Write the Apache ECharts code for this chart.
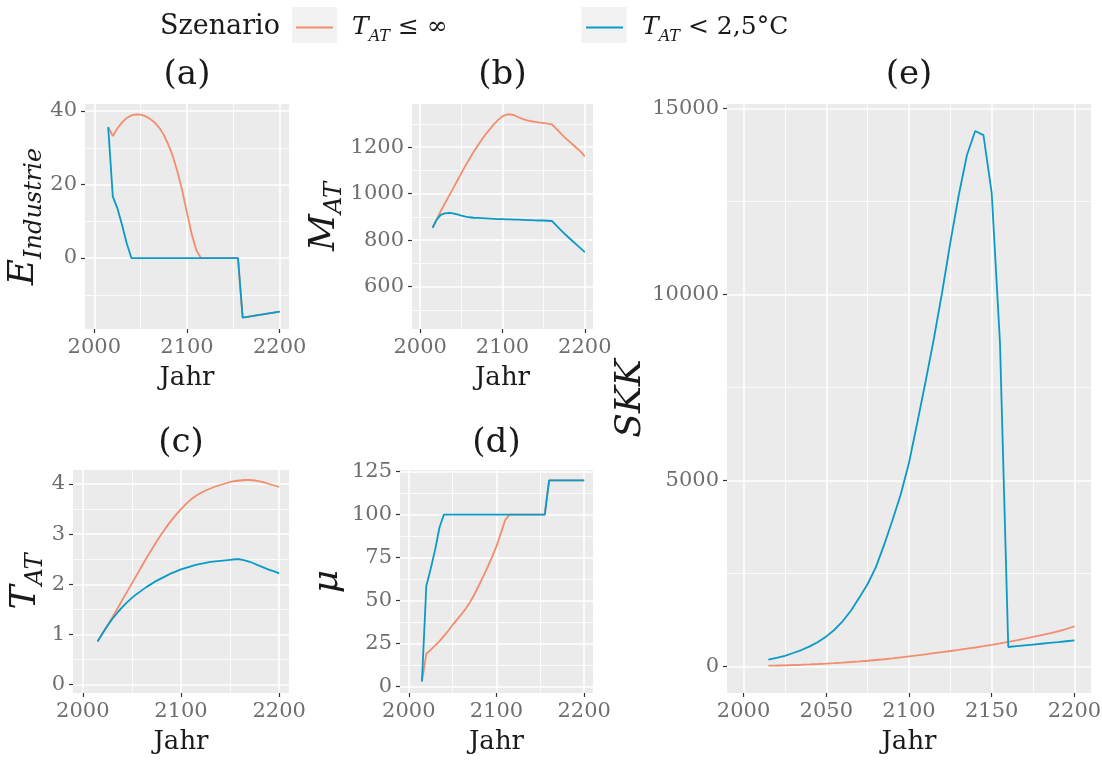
<!DOCTYPE html>
<html>
<head>
<meta charset="utf-8">
<script src="https://cdn.jsdelivr.net/npm/echarts@6/dist/echarts.min.js"></script>
<style>
  html, body { margin: 0; padding: 0; background: #fff; }
  #chart { width: 1102px; height: 760px; }
</style>
</head>
<body>
<div id="chart"></div>
<script>
// Jahre (5-Jahres-Schritte)
var years = [2015, 2020, 2025, 2030, 2035, 2040, 2045, 2050, 2055, 2060,
             2065, 2070, 2075, 2080, 2085, 2090, 2095, 2100, 2105, 2110,
             2115, 2120, 2125, 2130, 2135, 2140, 2145, 2150, 2155, 2160,
             2165, 2170, 2175, 2180, 2185, 2190, 2195, 2200]

// (a) E_Industrie
var eInf = [35.6, 33.2, 35.3, 36.9, 38.1, 38.8, 39.1, 39.0, 38.6, 37.9,
            36.9, 35.5, 33.5, 30.8, 27.5, 23.2, 18.2, 12.3, 6.6, 2.2,
            0, 0, 0, 0, 0, 0, 0, 0, 0, -16.2,
            -16.0, -15.8, -15.6, -15.4, -15.2, -15.0, -14.8, -14.6]
var eLim = [35.6, 16.7, 13.5, 9.0, 4.0, 0, 0, 0, 0, 0,
            0, 0, 0, 0, 0, 0, 0, 0, 0, 0,
            0, 0, 0, 0, 0, 0, 0, 0, 0, -16.2,
            -16.0, -15.8, -15.6, -15.4, -15.2, -15.0, -14.8, -14.6]

// (b) M_AT
var mInf = [853, 888, 925, 958, 990, 1022, 1055, 1088, 1120, 1150,
            1180, 1207, 1233, 1257, 1278, 1300, 1318, 1332, 1340, 1341,
            1336, 1327, 1320, 1315, 1311, 1308, 1305, 1303, 1301, 1298,
            1280, 1262, 1244, 1228, 1212, 1196, 1180, 1160]
var mLim = [853, 888, 908, 915, 917, 915, 910, 905, 901, 898,
            896, 895, 894, 893, 892, 891, 890, 890, 889, 889,
            888, 888, 887, 886, 886, 885, 884, 884, 883, 882,
            864, 846, 829, 812, 796, 780, 764, 748]

// (c) T_AT
var tInf = [0.86, 1.02, 1.18, 1.34, 1.51, 1.68, 1.85, 2.02, 2.19, 2.36,
            2.53, 2.69, 2.85, 3.00, 3.14, 3.27, 3.39, 3.50, 3.60, 3.69,
            3.76, 3.82, 3.87, 3.91, 3.95, 3.98, 4.01, 4.04, 4.06, 4.07,
            4.08, 4.08, 4.07, 4.05, 4.03, 4.00, 3.97, 3.94]
var tLim = [0.86, 1.02, 1.17, 1.31, 1.43, 1.54, 1.64, 1.73, 1.81, 1.88,
            1.95, 2.01, 2.07, 2.12, 2.17, 2.22, 2.26, 2.30, 2.33, 2.36,
            2.39, 2.41, 2.43, 2.45, 2.46, 2.47, 2.48, 2.49, 2.50, 2.50,
            2.48, 2.45, 2.41, 2.37, 2.33, 2.29, 2.26, 2.22]

// (d) mu
var muInf = [2.9, 19.0, 21.3, 23.7, 26.4, 29.3, 32.4, 35.8, 38.9, 42.0,
             45.3, 49.2, 53.8, 58.9, 64.2, 69.6, 75.4, 81.7, 89.2, 97.0,
             100, 100, 100, 100, 100, 100, 100, 100, 100, 120,
             120, 120, 120, 120, 120, 120, 120, 120]
var muLim = [2.9, 58.5, 68.5, 79.5, 92.5, 100, 100, 100, 100, 100,
             100, 100, 100, 100, 100, 100, 100, 100, 100, 100,
             100, 100, 100, 100, 100, 100, 100, 100, 100, 120,
             120, 120, 120, 120, 120, 120, 120, 120]

// (e) SKK
var skkInf = [19, 24, 30, 37, 45, 54, 64, 76, 89, 103,
              118, 134, 152, 172, 192, 215, 241, 269, 296, 325,
              355, 384, 414, 444, 475, 508, 543, 580, 619, 660,
              702, 746, 792, 840, 890, 944, 1005, 1075]
var skkLim = [180, 226, 285, 360, 440, 538, 658, 806, 986, 1220,
              1503, 1849, 2215, 2667, 3272, 3929, 4621, 5473, 6548, 7650,
              8800, 10050, 11400, 12650, 13740, 14390, 14280, 12720, 8690, 521,
              543, 565, 587, 609, 631, 653, 676, 698]

// Achsenbeschriftungen
var xTicksSmall = [2000, 2100, 2200]
var xMinorSmall = [2050, 2150]
var xTicksBig = [2000, 2050, 2100, 2150, 2200]
var xMinorBig = [2025, 2075, 2125, 2175]
var yTicksA = [0, 20, 40], yMinorA = [-10, 10, 30]
var yTicksB = [600, 800, 1000, 1200], yMinorB = [500, 700, 900, 1100, 1300]
var yTicksC = [0, 1, 2, 3, 4], yMinorC = [0.5, 1.5, 2.5, 3.5]
var yTicksD = [0, 25, 50, 75, 100, 125], yMinorD = [12.5, 37.5, 62.5, 87.5, 112.5]
var yTicksE = [0, 5000, 10000, 15000], yMinorE = [2500, 7500, 12500]

var FONT = 'DejaVu Serif'
var ORANGE = '#F28D6D'
var BLUE = '#0B9AC7'

function subRich(size, subSize) {
    var H = Math.round(size * 1.25)
    return {
        m: { fontFamily: FONT, fontStyle: 'italic', fontSize: size, lineHeight: H, color: '#1a1a1a' },
        s: { fontFamily: FONT, fontStyle: 'italic', fontSize: subSize, lineHeight: Math.round(H - 0.56 * size),
             verticalAlign: 'bottom', color: '#1a1a1a' },
        r: { fontFamily: FONT, fontSize: size, lineHeight: H, color: '#1a1a1a' }
    }
}

var panels = [
    { left: 85, top: 104, width: 204, height: 225, yMin: -19.3, yMax: 41.9,
      yTicks: yTicksA, yMinor: yMinorA, xTicks: xTicksSmall, xMinor: xMinorSmall,
      yName: '{m|E}{s|Industrie}', yGap: 36, inf: eInf, lim: eLim },
    { left: 412, top: 104, width: 181, height: 225, yMin: 417.4, yMax: 1385.2,
      yTicks: yTicksB, yMinor: yMinorB, xTicks: xTicksSmall, xMinor: xMinorSmall,
      yName: '{m|M}{s|AT}', yGap: 58, inf: mInf, lim: mLim },
    { left: 73, top: 470, width: 216, height: 223, yMin: -0.165, yMax: 4.279,
      yTicks: yTicksC, yMinor: yMinorC, xTicks: xTicksSmall, xMinor: xMinorSmall,
      yName: '{m|T}{s|AT}', yGap: 23, inf: tInf, lim: tLim },
    { left: 400, top: 470, width: 193, height: 223, yMin: -3.84, yMax: 126.0,
      yTicks: yTicksD, yMinor: yMinorD, xTicks: xTicksSmall, xMinor: xMinorSmall,
      yName: '{m|μ}', yGap: 50, inf: muInf, lim: muLim },
    { left: 727, top: 104, width: 364, height: 589, yMin: -715, yMax: 15117,
      yTicks: yTicksE, yMinor: yMinorE, xTicks: xTicksBig, xMinor: xMinorBig,
      yName: '{m|SKK}', yGap: 70, inf: skkInf, lim: skkLim }
]

var grids = [], xAxes = [], yAxes = [], series = []

function pairs(vals) {
    return years.map(function (y, i) { return [y, vals[i]] })
}

panels.forEach(function (p, gi) {
    grids.push({
        left: p.left, top: p.top, width: p.width, height: p.height,
        show: true, backgroundColor: '#EBEBEB', borderWidth: 0,
        containLabel: false, outerBoundsMode: 'none'
    })
    var xi = xAxes.length
    xAxes.push({
        type: 'value', gridIndex: gi, min: 1990, max: 2210, position: 'bottom',
        name: 'Jahr', nameLocation: 'middle', nameGap: 36,
        nameTextStyle: { fontFamily: FONT, fontSize: 26, color: '#1a1a1a' },
        axisLine: { show: false, onZero: false },
        axisTick: { show: true, length: 4, customValues: p.xTicks, lineStyle: { color: '#333', width: 1.2 } },
        axisLabel: { customValues: p.xTicks, margin: 8, fontFamily: FONT, fontSize: 21, color: '#6e6e6e',
                     formatter: function (v) { return String(v) } },
        splitLine: { show: true, lineStyle: { color: '#fff', width: 1.6 } }
    })
    xAxes.push({
        type: 'value', gridIndex: gi, min: 1990, max: 2210, position: 'top',
        axisLine: { show: false, onZero: false },
        axisTick: { show: false, customValues: p.xMinor },
        axisLabel: { show: false, customValues: p.xMinor },
        splitLine: { show: true, lineStyle: { color: '#fff', width: 0.8 } }
    })
    var yi = yAxes.length
    yAxes.push({
        type: 'value', gridIndex: gi, min: p.yMin, max: p.yMax, position: 'left',
        name: p.yName, nameLocation: 'middle', nameRotate: 90, nameGap: p.yGap,
        nameTextStyle: { rich: subRich(36, 24) },
        axisLine: { show: false, onZero: false },
        axisTick: { show: true, length: 4, customValues: p.yTicks, lineStyle: { color: '#333', width: 1.2 } },
        axisLabel: { customValues: p.yTicks, margin: 8, fontFamily: FONT, fontSize: 21, color: '#6e6e6e',
                     formatter: function (v) { return String(v) } },
        splitLine: { show: true, lineStyle: { color: '#fff', width: 1.6 } }
    })
    yAxes.push({
        type: 'value', gridIndex: gi, min: p.yMin, max: p.yMax, position: 'right',
        axisLine: { show: false, onZero: false },
        axisTick: { show: false, customValues: p.yMinor },
        axisLabel: { show: false, customValues: p.yMinor },
        splitLine: { show: true, lineStyle: { color: '#fff', width: 0.8 } }
    })
    series.push({
        type: 'line', name: 'inf', xAxisIndex: xi, yAxisIndex: yi, data: pairs(p.inf),
        showSymbol: false, symbol: 'none', color: ORANGE, z: 3,
        lineStyle: { color: ORANGE, width: 1.8 }
    })
    series.push({
        type: 'line', name: 'lim', xAxisIndex: xi, yAxisIndex: yi, data: pairs(p.lim),
        showSymbol: false, symbol: 'none', color: BLUE, z: 4,
        lineStyle: { color: BLUE, width: 1.8 }
    })
})

var legendRich = {
    t: { fontFamily: FONT, fontStyle: 'italic', fontSize: 25, lineHeight: 34, color: '#1a1a1a' },
    s: { fontFamily: FONT, fontStyle: 'italic', fontSize: 16, lineHeight: 20, verticalAlign: 'bottom', color: '#1a1a1a' },
    r: { fontFamily: FONT, fontSize: 25, lineHeight: 34, color: '#1a1a1a' }
}
var legendLabels = {
    inf: '{t|T}{s|AT}{r| ≤ ∞}',
    lim: '{t|T}{s|AT}{r| < 2,5°C}'
}
function makeLegend(name, left) {
    return {
        data: [name], left: left, top: 15, padding: 0, icon: 'rect',
        itemWidth: 37, itemHeight: 2, selectedMode: false, z: 5,
        formatter: function (n) { return legendLabels[n] },
        textStyle: { padding: [0, 0, 0, 14], rich: legendRich }
    }
}

var panelTitles = ['(a)', '(b)', '(c)', '(d)', '(e)']
var titleGraphics = panels.map(function (p, i) {
    var cy = p.top === 104 ? 75 : 443
    return {
        type: 'text', x: p.left + p.width / 2, y: cy,
        style: { text: panelTitles[i], fontFamily: FONT, fontSize: 34, fill: '#1a1a1a',
                 align: 'center', verticalAlign: 'middle' }
    }
})

var chart = echarts.init(document.getElementById('chart'), null, { renderer: 'canvas' })
chart.setOption({
    animation: false,
    backgroundColor: '#fff',
    grid: grids,
    xAxis: xAxes,
    yAxis: yAxes,
    series: series,
    legend: [makeLegend('inf', 296), makeLegend('lim', 586)],
    graphic: [
        { type: 'rect', z: 0, shape: { x: 292, y: 7, width: 45, height: 36 }, style: { fill: '#F2F2F2' } },
        { type: 'rect', z: 0, shape: { x: 581.5, y: 7, width: 45, height: 36 }, style: { fill: '#F2F2F2' } },
        { type: 'text', x: 160, y: 27,
          style: { text: 'Szenario', fontFamily: FONT, fontSize: 27, fill: '#1a1a1a', align: 'left', verticalAlign: 'middle' } }
    ].concat(titleGraphics)
})
</script>
</body>
</html>
